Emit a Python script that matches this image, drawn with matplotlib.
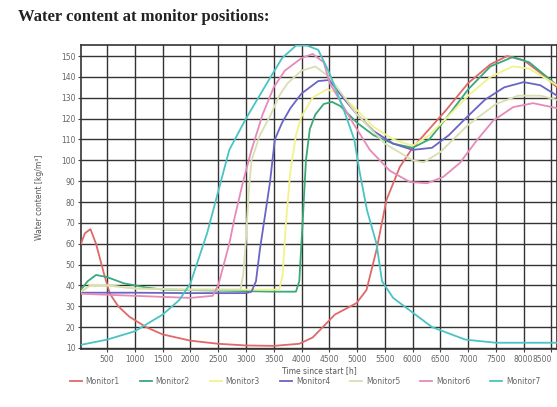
import matplotlib
matplotlib.use("Agg")
import matplotlib.pyplot as plt
import numpy as np

title = "Water content at monitor positions:"
x_label = "Time since start [h]"
y_label = "Water content [kg/m³]"
x_ticks = list(range(500, 9000, 500))
y_ticks = list(range(10, 160, 10))

# Monitor1 (red)
t1 = [30, 100, 200, 300, 450, 550, 700, 900, 1200, 1500, 2000, 2500, 3000, 3500, 3960,
      4200, 4420, 4600, 4990, 5170, 5350, 5530, 5770, 6000, 6300, 6600, 7000, 7400, 7700,
      8000, 8300, 8600]
v1 = [60, 65, 67, 60, 45, 36, 30, 25, 20, 16.5, 13.5, 12, 11.2, 11, 12,
      15, 21, 26, 31.5, 37.8, 57, 81, 96.8, 106, 115, 124, 137, 146, 150,
      148, 142, 135]

# Monitor2 (green)
t2 = [30, 150, 300, 500, 800, 1200, 1500, 2500, 3500, 3900, 3960, 4020, 4080, 4150, 4250,
      4400, 4550, 4700, 5000, 5300, 5650, 6000, 6300, 6600, 7000, 7400, 7800, 8100, 8600]
v2 = [38, 42, 45, 44, 41, 39, 38, 37.5, 37, 37, 42, 70, 100, 115, 122,
      127, 128, 126, 118, 112, 108, 106, 110, 120, 134, 145, 149.5, 147, 136]

# Monitor3 (yellow)
t3 = [30, 200, 500, 1000, 2000, 3000, 3600, 3660, 3720, 3800, 3900, 4000, 4200, 4450, 4700,
      5000, 5300, 5650, 6000, 6300, 6600, 7000, 7400, 7800, 8100, 8600]
v3 = [37, 40, 40, 38.5, 38, 38, 38, 45, 70, 95, 112, 121, 130, 134, 132,
      124, 116, 110, 107, 112, 120, 131, 140, 145, 144, 136]

# Monitor4 (blue)
t4 = [30, 500, 1000, 2000, 3000, 3100, 3180, 3250, 3430, 3520, 3650, 3800, 4000, 4300, 4500,
      4750, 5000, 5300, 5650, 6000, 6350, 6650, 6950, 7300, 7650, 8000, 8300, 8600]
v4 = [36.5, 36.5, 36.5, 36.3, 36.3, 37, 42, 57, 89, 110, 118, 125, 132, 138, 138.5,
      130, 122, 114, 108, 105, 106, 112, 120, 129, 135, 137.5, 136, 131]

# Monitor5 (pale)
t5 = [30, 200, 500, 1000, 2000, 2900, 2950, 3000, 3050, 3100, 3250, 3430, 3600, 3750, 4000,
      4250, 4500, 5000, 5500, 6000, 6200, 6500, 7000, 7500, 7900, 8300, 8600]
v5 = [37, 40, 40, 38.5, 38, 38, 45, 62, 85, 100, 112, 121, 131, 137, 143,
      145, 140, 122, 108, 100, 99, 104, 117, 127, 131, 131, 129]

# Monitor6 (pink)
t6 = [30, 1000, 2000, 2400, 2500, 2600, 2700, 2800, 2950, 3100, 3300, 3500, 3700, 4000, 4200,
      4400, 4510, 4925, 5230, 5590, 5950, 6260, 6550, 6850, 7160, 7450, 7810, 8170, 8600]
v6 = [36, 35, 34, 35, 40, 50, 60, 73, 90, 105, 122, 135, 143, 149, 151,
      147, 137, 118, 105, 95, 89.6, 89, 92, 98.7, 109.7, 119, 125.5, 127.4, 125]

# Monitor7 (cyan)
t7 = [30, 500, 1000, 1500, 1800, 2000, 2150, 2300, 2400, 2550, 2700, 3000, 3400, 3650, 3900,
      4100, 4300, 4500, 4750, 4950, 5050, 5180, 5350, 5450, 5650, 5950, 6350, 6650, 6950,
      7500, 8600]
v7 = [11.5, 14, 18, 26, 33, 41, 53, 65, 75, 90, 105, 120, 138, 149, 155,
      155, 153, 142, 125, 110, 94, 76, 60, 42, 34, 28, 20, 17, 14,
      12.5, 12.5]

names = ["Monitor1", "Monitor2", "Monitor3", "Monitor4", "Monitor5", "Monitor6", "Monitor7"]
series_t = [t1, t2, t3, t4, t5, t6, t7]
series_v = [v1, v2, v3, v4, v5, v6, v7]
colors = ["#e06868", "#3aa878", "#f2f28a", "#6a64c4", "#d9dfb0", "#e68ab8", "#48c4c4"]

fig = plt.figure(figsize=(5.57, 4.07), dpi=100)
ax = fig.add_axes([81/557, 1-349/407, 1-81/557, (349-45)/407])

for t, v, c, n in zip(series_t, series_v, colors, names):
    ax.plot(t, v, color=c, lw=1.3, label=n, zorder=3)

ax.set_xlim(30, 8600)
ax.set_ylim(9.5, 155.3)
ax.set_xticks(x_ticks)
ax.set_yticks(y_ticks)
ax.tick_params(labelsize=5.5, labelcolor="#666666", length=2, color="#444444", pad=2)
xl = ax.get_xticklabels()
xl[-1].set_horizontalalignment("right")
ax.grid(True, color="#333333", lw=1.0, zorder=1)
for s in ax.spines.values():
    s.set_color("#333333")
    s.set_linewidth(1.2)

ax.set_xlabel(x_label, fontsize=5.5, color="#555555", labelpad=2)
ax.set_ylabel(y_label, fontsize=5.5, color="#555555", labelpad=12)

fig.text(18/557, 1-17/407, title, fontsize=12, fontweight="bold",
         family="Liberation Serif", color="#222222", va="center", ha="left")

ax.legend(loc="center", bbox_to_anchor=(305/557, 1-381/407), bbox_transform=fig.transFigure,
          ncol=7, frameon=False, fontsize=5.5, labelcolor="#666666", handlelength=1.6,
          handletextpad=0.5, columnspacing=2.6)

fig.savefig("out.png", dpi=100, facecolor="white")
